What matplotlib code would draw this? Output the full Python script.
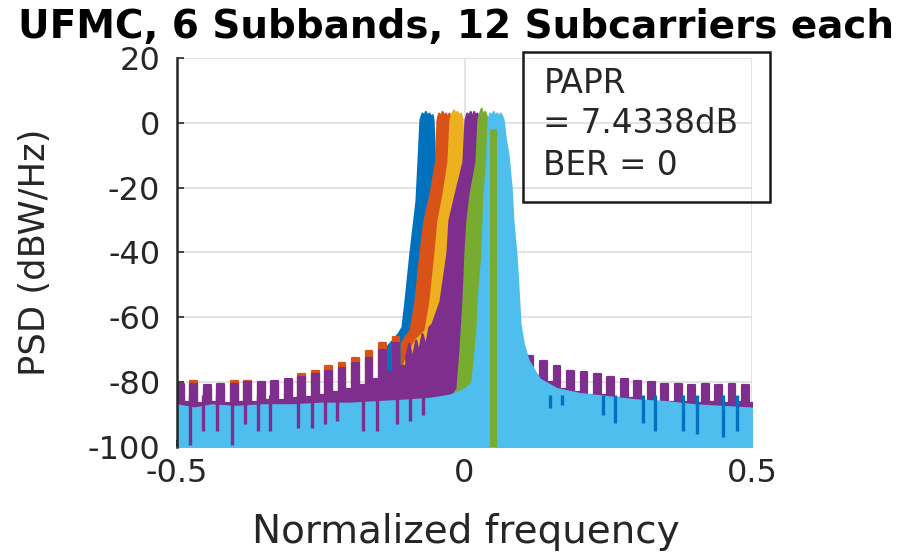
import numpy as np
import matplotlib.pyplot as plt

# subband colours, in plotting order
colors = ["#0072BD", "#D95319", "#EDB120", "#7E2F8E", "#77AC30", "#4DBEEE"]

# sidelobe comb: one tooth per subband width (12 of 512 bins), high/low halves
tooth = 12 / 512
left_edges = -0.5 + np.arange(35) * tooth / 2
right_edges = 0.108 + np.arange(35) * tooth / 2

purple_left = [-80.5, -86, -80.5, -86.5, -81, -86, -80.5, -86.5, -80.5, -86,
               -80, -86, -80, -85.5, -79.5, -85.5, -79, -85, -78.5, -84.5,
               -77.5, -84, -76.5, -83, -75.5, -82, -74, -81, -72.5, -79,
               -70, -77, -68, -75]
orange_left = [-81.5, -88, -79.5, -88, -82, -88, -82, -88, -79.5, -88,
               -79.5, -88, -81, -88, -80.5, -88, -80, -88, -77.5, -87,
               -76.5, -87, -75, -86, -74, -85, -72.5, -84, -70.5, -82,
               -68, -79, -66, -76]
purple_right = [-72, -78, -73.5, -80, -75, -82, -76.5, -83, -77, -84,
                -77.5, -84, -78.5, -85, -79, -85, -79.5, -86, -80, -86,
                -80.5, -86, -80.5, -86, -81, -86.5, -80.5, -86, -81, -86.5,
                -80.5, -86, -81, -86.5]

# main lobes (frequency, PSD in dBW/Hz)
blue_f = [-0.140, -0.130, -0.1157, -0.1087, -0.1035, -0.0948, -0.0843, -0.0809,
          -0.0774, -0.074, -0.071, -0.068, -0.065, -0.062, -0.059, -0.0565, -0.0548,
          -0.052, -0.049, -0.045, -0.035, -0.020, 0.000, 0.050]
blue_db = [-70, -68, -65, -63, -55, -40, -24, -12, 1, 3, 2, 3.5, 2, 3, 1.5, 2.5, 1,
           -12, -25, -33, -45, -58, -66, -74]

orange_f = [-0.110, -0.1035, -0.0948, -0.0861, -0.0774, -0.0704, -0.0600, -0.0504,
            -0.0478, -0.045, -0.042, -0.039, -0.036, -0.033, -0.030, -0.027, -0.0252,
            -0.023, -0.020, -0.016, -0.006, 0.010, 0.030, 0.080]
orange_db = [-68, -66, -64, -55, -40, -30, -22, -12, 1, 3, 2, 3.5, 2, 3, 1.5, 3, 1,
             -12, -25, -33, -45, -58, -66, -75]

yellow_f = [-0.105, -0.0861, -0.0687, -0.0600, -0.0513, -0.0461, -0.0374, -0.0287,
            -0.0252, -0.022, -0.019, -0.016, -0.013, -0.010, -0.007, -0.0043,
            -0.002, 0.001, 0.005, 0.015, 0.030, 0.050, 0.090]
yellow_db = [-74, -67, -64, -55, -40, -30, -22, -12, 1, 3, 4, 2, 3.5, 2, 3, 1,
             -12, -25, -33, -45, -58, -66, -75]

purple_f = [-0.102, -0.097, -0.091, -0.085, -0.080, -0.074, -0.068, -0.062,
            -0.0565, -0.0426, -0.0304, -0.0270, -0.0165, -0.0026, 0.0009, 0.004,
            0.007, 0.010, 0.013, 0.016, 0.019, 0.0215, 0.0235, 0.026, 0.029, 0.033,
            0.043, 0.058, 0.080, 0.108]
purple_db = [-72, -68, -73, -67, -71, -65, -69, -63, -62, -55, -40, -30, -22, -12,
             1, 3, 2, 3.5, 1.5, 3.5, 2, 3, 1, -12, -25, -33, -45, -57, -66, -72]

green_f = [-0.040, -0.0252, -0.0130, -0.0078, -0.0026, 0.0009, 0.0043, 0.0096,
           0.0200, 0.0235, 0.026, 0.029, 0.032, 0.035, 0.038, 0.0409, 0.043, 0.046,
           0.050, 0.058, 0.070, 0.090]
green_db = [-88, -85, -82, -70, -55, -40, -30, -22, -12, 1, 3, 4.5, 2, 3.5, 2, 1,
            -12, -25, -36, -52, -66, -74]
green_null_f = 0.050

lblue_f = [-0.500, -0.470, -0.440, -0.400, -0.350, -0.300, -0.250, -0.200, -0.150,
           -0.100, -0.060, -0.0252, 0.0009, 0.0130, 0.0217, 0.0235, 0.0304, 0.0339,
           0.0383, 0.0409, 0.044, 0.047, 0.050, 0.053, 0.056, 0.059, 0.062, 0.065,
           0.067, 0.071, 0.0757, 0.081, 0.084, 0.0896, 0.093, 0.0965, 0.102, 0.110,
           0.130, 0.160, 0.200, 0.250, 0.300, 0.350, 0.400, 0.450, 0.500]
lblue_db = [-87, -88, -87, -87.5, -87, -87, -86.5, -86.5, -86, -85.5, -85, -84, -82,
            -80, -64, -55, -40, -22, -12, 1, 3, 2, 3.5, 2, 3, 1.5, 3, 2, 1, -5, -10,
            -20, -30, -41, -51, -62, -68, -73, -79, -82, -83.5, -84.5, -85.5, -86,
            -87, -87.5, -88]

# deep nulls that poke below the sidelobe band
purple_dip_f = [-0.478, -0.455, -0.431, -0.405, -0.382, -0.359, -0.338, -0.290,
                -0.266, -0.243, -0.222, -0.177, -0.153, -0.118, -0.095, -0.072]
purple_dip_db = [-99.5, -95, -95, -99.5, -93, -95, -95, -94, -94, -93, -92, -95, -95,
                 -93, -92, -90]
blue_dip_f = [0.149, 0.170, 0.241, 0.262, 0.311, 0.332, 0.380, 0.405, 0.450, 0.474]
blue_dip_db = [-88, -87, -90, -92.5, -92.5, -95, -95, -96, -97, -95]

floor = -105
lw = 1.6

fig = plt.figure(figsize=(9.14, 5.57), dpi=100)
ax = fig.add_axes([177 / 914, 110 / 557, 575 / 914, 389 / 557])

c_blue, c_orange, c_yellow, c_purple, c_green, c_lblue = colors


def band(x, y, c, **kw):
    ax.fill_between(x, y, floor, color=c, ec=c, lw=lw, zorder=2, **kw)


band(blue_f, blue_db, c_blue)
band(left_edges, orange_left + orange_left[-1:], c_orange, step="post")
band(orange_f, orange_db, c_orange)
band(yellow_f, yellow_db, c_yellow)
band(left_edges, purple_left + purple_left[-1:], c_purple, step="post")
band(right_edges, purple_right + purple_right[-1:], c_purple, step="post")
band(purple_f, purple_db, c_purple)
band(green_f, green_db, c_green)
band(lblue_f, lblue_db, c_lblue)

ax.vlines(purple_dip_f, purple_dip_db, -84, color=c_purple, lw=2.4, zorder=3)
ax.vlines(blue_dip_f, blue_dip_db, -84, color=c_blue, lw=2.4, zorder=3)
ax.vlines([green_null_f], floor, -2, color=c_green, lw=5, zorder=3)

ax.set_xlim(-0.5, 0.5)
ax.set_ylim(-100, 20)
ax.set_xticks([-0.5, 0, 0.5])
ax.set_xticklabels(["-0.5", "0", "0.5"])
ax.set_yticks([20, 0, -20, -40, -60, -80, -100])
ax.set_yticklabels(["20", "0", "-20", "-40", "-60", "-80", "-100"])
ax.tick_params(direction="in", labelsize=23, length=5, width=1.2, color="#262626",
               labelcolor="#262626")
ax.tick_params(axis="y", pad=12)
ax.tick_params(axis="x", pad=8)
ax.grid(True, color="#dedede", lw=1.2)
ax.set_axisbelow(True)
for side in ["top", "right", "bottom"]:
    ax.spines[side].set_visible(False)
ax.spines["left"].set_linewidth(1.8)
ax.spines["left"].set_color("#262626")
ax.spines["left"].set_zorder(4)

ax.set_xlabel("Normalized frequency", fontsize=28, color="#262626")
ax.xaxis.set_label_coords(0.502, -0.17)
ax.set_ylabel("PSD (dBW/Hz)", fontsize=25.5, color="#262626")
ax.yaxis.set_label_coords(-0.217, 0.5)

fig.text(456 / 914, 1 - 27 / 557, "UFMC, 6 Subbands, 12 Subcarriers each",
         fontsize=28, fontweight="bold", ha="center", va="center")

# annotation box with PAPR and BER
box = plt.Rectangle((0.602, 0.630), 0.429, 0.385, transform=ax.transAxes,
                    fill=False, ec="#1a1a1a", lw=1.8, clip_on=False, zorder=5)
ax.add_patch(box)
for ty, line in zip([0.910, 0.807, 0.699], ["PAPR", "= 7.4338dB", "BER = 0"]):
    ax.text(0.637, ty, line, transform=ax.transAxes, fontsize=23.5, color="#262626",
            va="baseline", ha="left", zorder=5)

fig.savefig("out.png", dpi=100)
